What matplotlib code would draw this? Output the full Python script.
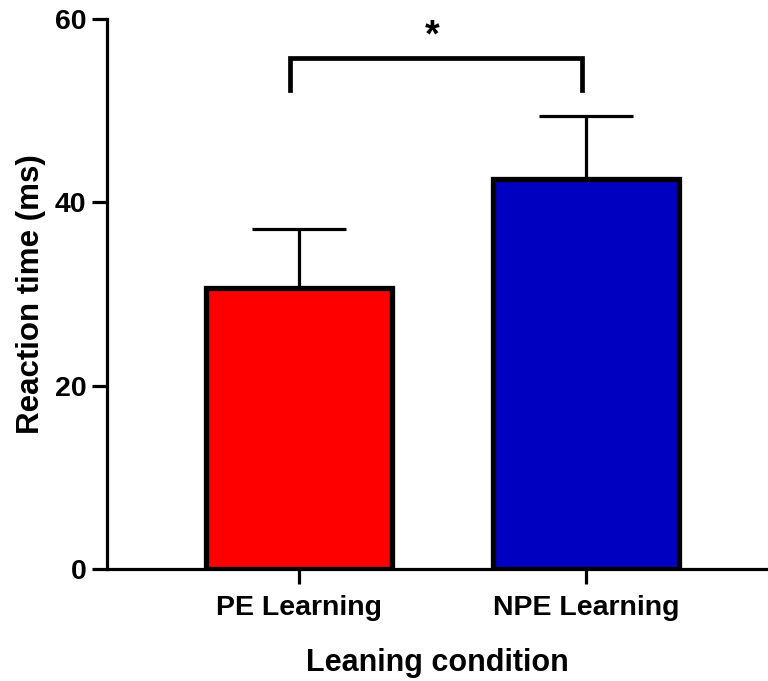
import matplotlib.pyplot as plt

conditions = ["PE Learning", "NPE Learning"]
mean_rt = [30.6, 42.5]
sem_rt = [6.5, 6.9]
bar_colors = ["#ff0000", "#0000c0"]

plt.rcParams['font.family'] = ['Liberation Sans', 'DejaVu Sans']
plt.rcParams['font.weight'] = 'bold'

fig = plt.figure(figsize=(7.68, 6.81), dpi=100)
ax = fig.add_axes([0.1393, 0.1645, 0.8607, 0.8076])

x = range(len(conditions))
ax.errorbar(x, mean_rt, yerr=[[0] * len(sem_rt), sem_rt], fmt='none',
            ecolor='black', elinewidth=2.3, capsize=34, capthick=2.3, zorder=1)
ax.bar(x, mean_rt, width=0.645, color=bar_colors, edgecolor='black',
       linewidth=3.8, zorder=2)

# significance bracket between the two conditions
top = max(m + s for m, s in zip(mean_rt, sem_rt)) + 6.3
ax.plot([-0.03, -0.03, 0.985, 0.985], [top - 3.4, top, top, top - 3.4],
        color='black', linewidth=3.4, solid_joinstyle='miter', zorder=3)
ax.text(0.465, top + 0.4, "*", ha='center', va='bottom', fontsize=27,
        fontweight='bold')

ax.set_xlim(-0.669, 1.634)
ax.set_ylim(0, 60)
ax.set_yticks([0, 20, 40, 60])
ax.set_xticks(list(x))
ax.set_xticklabels(conditions)

for side in ['top', 'right']:
    ax.spines[side].set_visible(False)
for side in ['left', 'bottom']:
    ax.spines[side].set_linewidth(2.3)
ax.tick_params(axis='both', width=2.3, length=11, labelsize=20.5, pad=4)
ax.tick_params(axis='x', pad=8)

ax.set_ylabel("Reaction time (ms)", fontsize=22.5, fontweight='bold', labelpad=6)
ax.set_xlabel("Leaning condition", fontsize=22, fontweight='bold', labelpad=19)

fig.savefig("out.png", dpi=100)
